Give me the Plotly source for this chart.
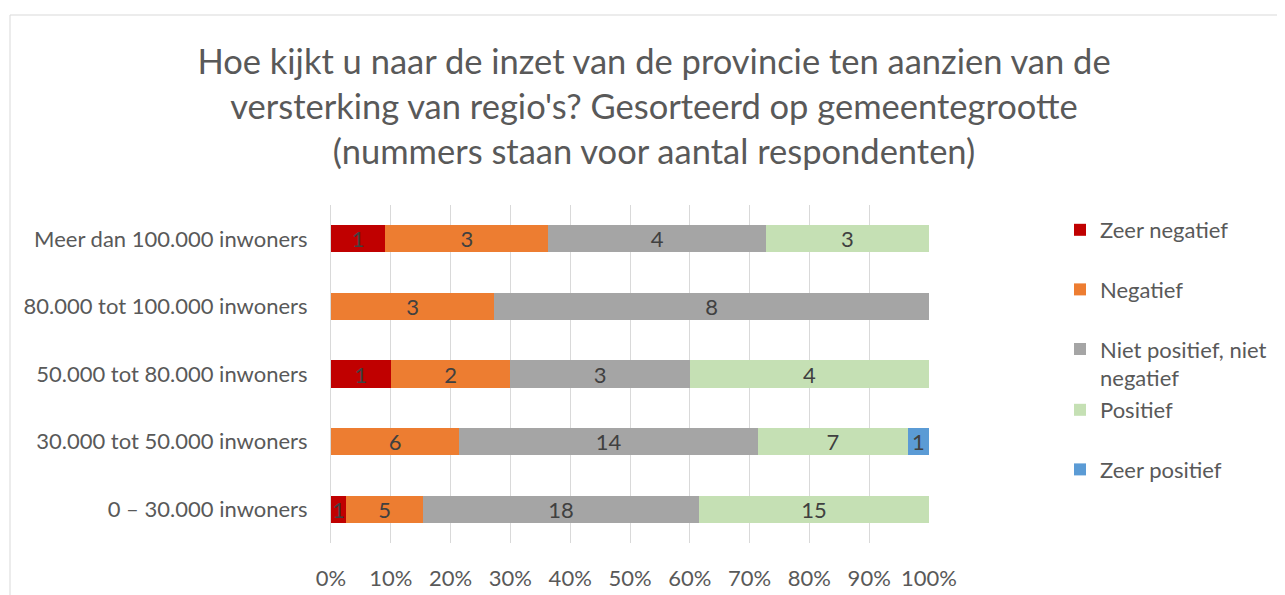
import plotly.graph_objects as go

categories = ["0 – 30.000 inwoners", "30.000 tot 50.000 inwoners", "50.000 tot 80.000 inwoners",
              "80.000 tot 100.000 inwoners", "Meer dan 100.000 inwoners"]
series_names = ["Zeer negatief", "Negatief", "Niet positief, niet<br>negatief", "Positief", "Zeer positief"]
zeer_negatief = [1, 0, 1, 0, 1]
negatief = [5, 6, 2, 3, 3]
neutraal = [18, 14, 3, 8, 4]
positief = [15, 7, 4, 0, 3]
zeer_positief = [0, 1, 0, 0, 0]
colors = ["#C00000", "#ED7D31", "#A5A5A5", "#C5E0B4", "#5B9BD5"]
x_ticks = [0, 0.1, 0.2, 0.3, 0.4, 0.5, 0.6, 0.7, 0.8, 0.9, 1.0]

FONT = "Lato"
FS = 22
W, H = 1285, 595
OFF = 8  # page body margin
L, R, T, B = 331 - OFF, 929 - OFF, 205 - OFF, 543 - OFF

def py(p):
    return (B - (p - OFF)) / (B - T)

def px(p):
    return ((p - OFF) - L) / (R - L)

fig = go.Figure()
all_series = [zeer_negatief, negatief, neutraal, positief, zeer_positief]
legend_of = ["legend", "legend", "legend", "legend2", "legend2"]
for name, vals, col, lg in zip(series_names, all_series, colors, legend_of):
    fig.add_trace(go.Bar(
        y=categories, x=vals, name=name, orientation="h",
        marker=dict(color=col, line=dict(width=0)),
        text=[str(v) if v else "" for v in vals],
        textposition="inside", insidetextanchor="middle", textangle=0,
        textfont=dict(family=FONT, size=FS, color="#404040"),
        legend=lg, legendgroup=name,
    ))

fig.update_layout(
    width=W, height=H,
    barmode="stack", barnorm="fraction", bargap=0.6,
    paper_bgcolor="white", plot_bgcolor="white",
    margin=dict(l=L, r=W - R, t=T, b=H - B),
    uniformtext=dict(minsize=FS, mode="show"),
    font=dict(family=FONT, color="#595959", size=FS),
    title=dict(
        text="Hoe kijkt u naar de inzet van de provincie ten aanzien van de<br>versterking van regio's? Gesorteerd op gemeentegrootte<br>(nummers staan voor aantal respondenten)",
        x=(654 - OFF) / W, xanchor="center", xref="container",
        y=1 - 66 / H, yanchor="top", yref="container",
        font=dict(family=FONT, size=34.5, color="#595959"),
    ),
    xaxis=dict(range=[0, 1], tickvals=x_ticks, tickformat=".0%", showgrid=True,
               gridcolor="#D9D9D9", gridwidth=1, zeroline=False, showline=False,
               ticks="", ticklabelstandoff=20, tickfont=dict(size=FS, color="#595959"),
               fixedrange=True),
    yaxis=dict(showgrid=False, ticks="", showline=True, linecolor="#D9D9D9", linewidth=1,
               ticklabelstandoff=18, tickfont=dict(size=FS, color="#595959"),
               categoryorder="array", categoryarray=categories),
    legend=dict(x=px(1060), xanchor="left", y=py(209), yanchor="top",
                traceorder="grouped", tracegroupgap=28, valign="top",
                font=dict(size=FS, color="#595959"), bgcolor="rgba(0,0,0,0)"),
    legend2=dict(x=px(1060), xanchor="left", y=py(389), yanchor="top",
                 traceorder="grouped", tracegroupgap=28, valign="top",
                 font=dict(size=FS, color="#595959"), bgcolor="rgba(0,0,0,0)"),
    shapes=[dict(type="rect", xref="paper", yref="paper",
                 x0=px(10), x1=px(W + 40), y0=py(H + 40), y1=py(15),
                 line=dict(color="#D9D9D9", width=1), fillcolor="rgba(0,0,0,0)", layer="below")],
)

fig.write_html("out.html")
